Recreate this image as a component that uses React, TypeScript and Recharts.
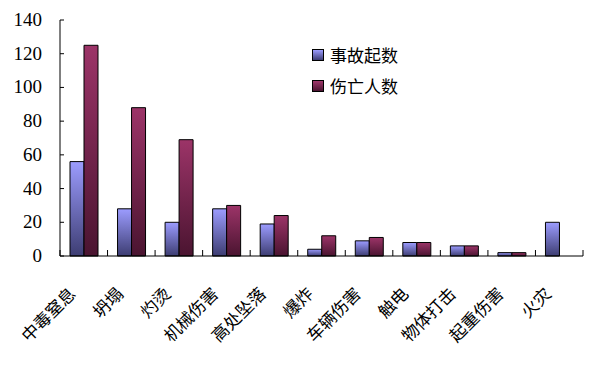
import React from 'react';
import { BarChart, Bar, XAxis, YAxis, Legend } from 'recharts';

const categories = ['中毒窒息', '坍塌', '灼烫', '机械伤害', '高处坠落', '爆炸', '车辆伤害', '触电', '物体打击', '起重伤害', '火灾'];
const accidents = [56, 28, 20, 28, 19, 4, 9, 8, 6, 2, 20];
const casualties = [125, 88, 69, 30, 24, 12, 11, 8, 6, 2, 0];
const yTicks = [0, 20, 40, 60, 80, 100, 120, 140];

const seriesNames = { accidents: '事故起数', casualties: '伤亡人数' };

const data = categories.map((name, i) => ({
    name,
    accidents: accidents[i],
    casualties: casualties[i],
}));

const cjk = '"Noto Sans CJK SC", "Noto Sans", sans-serif';
const serif = '"Times New Roman", "Liberation Serif", serif';

// rotated category label + Excel-style tick marks on the category boundaries, pointing up
const CategoryTick = (props: any) => {
    const { x, y, payload, index } = props;
    const half = payload.offset || 0;
    const isLast = index === categories.length - 1;
    return (
        <g>
            <line x1={x - half} x2={x - half} y1={y} y2={y - 6} stroke="#000" />
            {isLast && <line x1={x + half} x2={x + half} y1={y} y2={y - 6} stroke="#000" />}
            <g transform={`translate(${x - 7},${y + 39})`}>
                <text x={0} y={0} transform="rotate(-45)" textAnchor="end" fontSize={17} fontFamily={cjk} fill="#000">
                    {payload.value}
                </text>
            </g>
        </g>
    );
};

const ValueTick = (props: any) => {
    const { x, y, payload } = props;
    return (
        <text x={x} y={y} dy={6} textAnchor="end" fontSize={19} fontFamily={serif} fill="#000">
            {payload.value}
        </text>
    );
};

const legendItems = [
    { label: seriesNames.accidents, bg: 'linear-gradient(#9c9cff, #3d3d75)' },
    { label: seriesNames.casualties, bg: 'linear-gradient(#a0386c, #4a1430)' },
];

const LegendBox = () => (
    <div style={{ fontFamily: cjk, fontSize: 17, color: '#000' }}>
        {legendItems.map(item => (
            <div key={item.label} style={{ display: 'flex', alignItems: 'center', height: 31 }}>
                <span style={{ width: 10, height: 10, border: '1px solid #000', background: item.bg, marginRight: 6, display: 'inline-block' }} />
                <span style={{ lineHeight: '20px' }}>{item.label}</span>
            </div>
        ))}
    </div>
);

export default function App() {
    return (
        <div style={{ position: 'absolute', left: 0, top: 0, width: 592, height: 366, background: '#fff' }}>
            <BarChart
                width={592}
                height={366}
                data={data}
                margin={{ top: 20, right: 9, left: 10, bottom: 0 }}
                barGap={0}
            >
                <defs>
                    <linearGradient id="gBlue" x1="0" y1="0" x2="0" y2="1">
                        <stop offset="0%" stopColor="#9c9cff" />
                        <stop offset="100%" stopColor="#3d3d72" />
                    </linearGradient>
                    <linearGradient id="gRed" x1="0" y1="0" x2="0" y2="1">
                        <stop offset="0%" stopColor="#9c3468" />
                        <stop offset="100%" stopColor="#4a1430" />
                    </linearGradient>
                </defs>

                <XAxis
                    dataKey="name"
                    height={110}
                    interval={0}
                    tickSize={0}
                    tickMargin={0}
                    tickLine={false}
                    axisLine={{ stroke: '#000' }}
                    tick={<CategoryTick />}
                />

                <YAxis
                    width={50}
                    domain={[0, 140]}
                    ticks={yTicks}
                    tickSize={-4}
                    tickMargin={22}
                    tickLine={{ stroke: '#000' }}
                    axisLine={{ stroke: '#000' }}
                    tick={<ValueTick />}
                />

                <Legend
                    layout="vertical"
                    align="center"
                    verticalAlign="middle"
                    content={<LegendBox />}
                    wrapperStyle={{ left: 312, top: 39, width: 'auto', height: 'auto' }}
                />

                <Bar
                    dataKey="accidents"
                    name={seriesNames.accidents}
                    fill="url(#gBlue)"
                    stroke="#000"
                    strokeWidth={1}
                    barSize={14}
                    isAnimationActive={false}
                />
                <Bar
                    dataKey="casualties"
                    name={seriesNames.casualties}
                    fill="url(#gRed)"
                    stroke="#000"
                    strokeWidth={1}
                    barSize={14}
                    isAnimationActive={false}
                />
            </BarChart>
        </div>
    );
}
